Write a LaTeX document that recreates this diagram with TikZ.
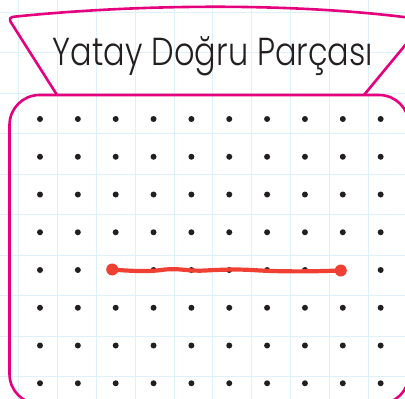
\documentclass[tikz,border=0pt]{standalone}
\usepackage{fontspec}
\setmainfont{Poppins}
\newfontfamily\ince{Poppins Light}
\usetikzlibrary{calc}
\definecolor{pembe}{RGB}{230,0,126}
\definecolor{kirmizi}{RGB}{240,64,52}
\definecolor{izgara}{RGB}{222,240,250}
\definecolor{nokta}{RGB}{35,31,32}
\tikzset{
  % pembe çerçeveler
  cerceve/.style={draw=pembe, line width=2.6pt, line join=round},
  % kareli kağıt çizgileri
  izg/.style={draw=izgara, line width=1pt},
  nkt/.style={circle, fill=nokta, inner sep=0pt, minimum size=6pt},
  cizgi/.style={draw=kirmizi, line width=4.2pt, line cap=round},
  uc/.style={circle, fill=kirmizi, inner sep=0pt, minimum size=12pt},
  baslik/.style={font=\ince\fontsize{39}{39}\selectfont, text=nokta, xscale=0.82}
}

\begin{document}
\begin{tikzpicture}[x=1pt, y=-1pt]
  \useasboundingbox (0,0) rectangle (405,399);
  \begin{scope}
    \clip (0,0) rectangle (405,399);
    \foreach \i in {0,...,9}
      \draw[izg] ({18.7+38.85*\i},0) -- ++(0,399);
    \foreach \j in {0,...,9}
      \draw[izg] (0,{12.5+40.45*\j}) -- ++(405,0);
    % noktalı tahta
    \draw[cerceve, rounded corners=30pt] (9.5,95) rectangle (409,404);
    % başlık bandı
    \draw[cerceve] (57,95) -- (12,24) .. controls (8,18) and (10,17) .. (16,16.5)
      .. controls (150,3) and (310,3) .. (426,20) -- (364,95);
  \end{scope}

  \node[baslik, anchor=base] (baslik) at (213,65) {Yatay Doğru Parçası};

  \foreach \i in {0,...,9}
    \foreach \j in {0,...,7}
      \node[nkt] (n-\i-\j) at ({40+37.85*\i},{119+37.75*\j}) {};

  \node[uc] (bas) at ($(n-2-4)+(-3.5,-0.5)$) {};
  \node[uc] (son) at ($(n-8-4)+(-2,0.5)$) {};
  \draw[cizgi] (bas.center) .. controls (130,271) and (150,272) .. (165,269.5)
    .. controls (180,268) and (188,271.5) .. (205,270.5)
    .. controls (225,269.5) and (240,269) .. (260,270.5)
    .. controls (280,271.5) and (305,271.8) .. (son.center);
\end{tikzpicture}
\end{document}
